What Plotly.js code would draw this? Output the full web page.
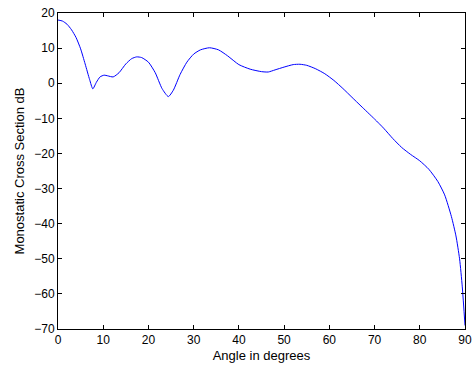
<!DOCTYPE html>
<html>
<head>
<meta charset="utf-8">
<script src="https://cdn.plot.ly/plotly-3.0.1.min.js"></script>
<style>html,body{margin:0;padding:0;background:#fff;}#chart{width:475px;height:370px;}</style>
</head>
<body>
<div id="chart"></div>
<script>
const angles = [0, 1, 2, 3, 4, 5, 6, 7, 7.7, 8.5, 9.3, 10.2, 11, 12.2, 13.5, 15, 16.3, 17.4, 18.5, 20, 21.5, 23, 24.4, 25.5, 27, 28.5, 30, 31.5, 33.5, 35.5, 37.5, 40, 42.5, 45, 46.5, 48, 50, 52, 53.5, 55, 57, 59, 61, 63, 65, 67, 70, 72, 74, 76, 78, 80, 82, 84, 85.5, 87, 88, 88.8, 89.4, 90];
const rcsDb = [18.0, 17.7, 16.8, 15.2, 13.0, 9.8, 5.5, 1.0, -1.6, 0.3, 1.8, 2.3, 2.1, 1.8, 3.0, 5.5, 7.0, 7.5, 7.3, 6.0, 3.0, -1.5, -3.8, -2.0, 2.5, 6.0, 8.3, 9.5, 10.1, 9.5, 7.8, 5.3, 4.0, 3.3, 3.2, 3.8, 4.6, 5.3, 5.4, 5.1, 4.1, 2.7, 0.8, -1.5, -4.0, -6.5, -10.2, -12.8, -15.7, -18.3, -20.3, -22.1, -24.5, -28.0, -31.8, -38.0, -43.5, -50, -58, -69];
const xTicks = [0, 10, 20, 30, 40, 50, 60, 70, 80, 90];
const yTicks = [-70, -60, -50, -40, -30, -20, -10, 0, 10, 20];
const xLabel = 'Angle in degrees';
const yLabel = 'Monostatic Cross Section dB';

const FONT = 'Liberation Sans, Arial, sans-serif';
const axisCommon = {
  showgrid: false, zeroline: false, showline: true, linecolor: '#000', linewidth: 1,
  mirror: 'ticks', ticks: 'inside', ticklen: 4, tickcolor: '#000', tickwidth: 1,
  tickfont: {family: FONT, size: 12, color: '#000'},
  tickmode: 'array', automargin: false
};

Plotly.newPlot('chart', [{
  x: angles, y: rcsDb, type: 'scatter', mode: 'lines',
  line: {color: '#0000ff', width: 1, shape: 'spline', smoothing: 0.6}
}], {
  width: 475, height: 370,
  margin: {l: 58, r: 10, t: 13, b: 41},
  paper_bgcolor: '#fff', plot_bgcolor: '#fff',
  showlegend: false,
  xaxis: Object.assign({}, axisCommon, {
    range: [0, 90], tickvals: xTicks, ticktext: xTicks.map(String),
    title: {text: xLabel, font: {family: FONT, size: 13, color: '#000'}, standoff: 4}
  }),
  yaxis: Object.assign({}, axisCommon, {
    range: [-70, 20], tickvals: yTicks,
    title: {text: yLabel, font: {family: FONT, size: 13, color: '#000'}, standoff: 6}
  })
}, {displayModeBar: false, staticPlot: true});
</script>
</body>
</html>
